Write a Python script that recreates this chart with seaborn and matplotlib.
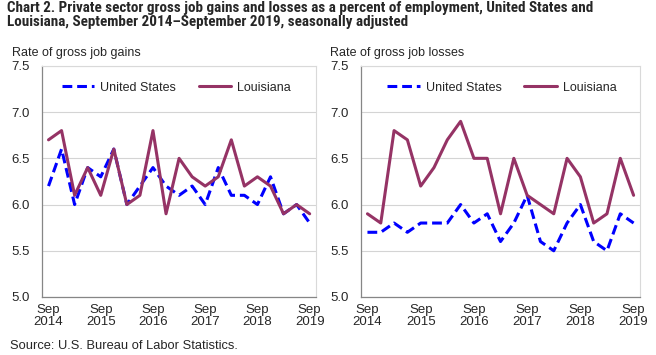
import numpy as np
import pandas as pd
import seaborn as sns
import matplotlib.pyplot as plt

quarters = np.arange(21)
year_labels = ['Sep\n2014', 'Sep\n2015', 'Sep\n2016', 'Sep\n2017', 'Sep\n2018', 'Sep\n2019']

gains_us = [6.2, 6.6, 6.0, 6.4, 6.3, 6.6, 6.0, 6.2, 6.4, 6.2, 6.1, 6.2, 6.0, 6.4, 6.1, 6.1, 6.0, 6.3, 5.9, 6.0, 5.8]
gains_la = [6.7, 6.8, 6.1, 6.4, 6.1, 6.6, 6.0, 6.1, 6.8, 5.9, 6.5, 6.3, 6.2, 6.3, 6.7, 6.2, 6.3, 6.2, 5.9, 6.0, 5.9]
losses_us = [5.7, 5.7, 5.8, 5.7, 5.8, 5.8, 5.8, 6.0, 5.8, 5.9, 5.6, 5.8, 6.1, 5.6, 5.5, 5.8, 6.0, 5.6, 5.5, 5.9, 5.8]
losses_la = [5.9, 5.8, 6.8, 6.7, 6.2, 6.4, 6.7, 6.9, 6.5, 6.5, 5.9, 6.5, 6.1, 6.0, 5.9, 6.5, 6.3, 5.8, 5.9, 6.5, 6.1]

sns.set_style('white')
plt.rcParams['font.family'] = ['Liberation Sans', 'DejaVu Sans']
condensed = ['Roboto Condensed', 'Liberation Sans', 'DejaVu Sans']

fig = plt.figure(figsize=(6.56, 3.55), dpi=100)
ax_l = fig.add_axes([0.064, 0.1634, 0.418, 0.651])
ax_r = fig.add_axes([0.550, 0.1634, 0.426, 0.651])

blue = '#0000ff'
maroon = '#953365'


def draw_panel(ax, us, la, ylabel, leg_x):
    sns.lineplot(x=quarters, y=us, ax=ax, color=blue, lw=2.2, label='United States')
    sns.lineplot(x=quarters, y=la, ax=ax, color=maroon, lw=2.2, label='Louisiana')
    ax.lines[0].set_dashes([3.2, 1.6])
    ax.set_xlim(-0.5, 20.5)
    ax.set_ylim(5.0, 7.5)
    ax.set_yticks([5.0, 5.5, 6.0, 6.5, 7.0, 7.5])
    ax.set_yticklabels(['5.0', '5.5', '6.0', '6.5', '7.0', '7.5'])
    ax.set_xticks(np.arange(0, 21, 4))
    ax.set_xticklabels(year_labels, linespacing=1.0)
    ax.set_xticks(np.arange(-0.5, 21, 1), minor=True)
    ax.tick_params(axis='x', which='major', length=0, pad=5, labelsize=9.5)
    ax.tick_params(axis='x', which='minor', length=4, width=0.8, color='#868686', direction='out')
    ax.tick_params(axis='y', length=0, pad=9, labelsize=9.5)
    ax.yaxis.grid(True, color='#d4d4d4', lw=0.8)
    ax.set_axisbelow(True)
    for side in ['left', 'bottom']:
        ax.spines[side].set_color('#868686')
        ax.spines[side].set_linewidth(0.9)
    for side in ['top', 'right']:
        ax.spines[side].set_color('#d9d9d9')
        ax.spines[side].set_linewidth(0.8)
    ax.set_xlabel('')
    ax.set_ylabel('')
    ax.text(-0.11, 1.03, ylabel, transform=ax.transAxes, fontsize=9, va='bottom', ha='left')
    ax.legend(loc='upper center', bbox_to_anchor=(leg_x, 0.98), ncol=2, frameon=False,
              fontsize=9, handlelength=2.6, columnspacing=1.8, handletextpad=0.5)


draw_panel(ax_l, gains_us, gains_la, 'Rate of gross job gains', 0.49)
draw_panel(ax_r, losses_us, losses_la, 'Rate of gross job losses', 0.505)

fig.text(0.011, 0.996, 'Chart 2. Private sector gross job gains and losses as a percent of employment, United States and\n'
         'Louisiana, September 2014\u2013September 2019, seasonally adjusted',
         fontsize=10.9, fontweight='bold', family=condensed, va='top', ha='left', linespacing=0.98)
fig.text(0.016, 0.025, 'Source: U.S. Bureau of Labor Statistics.', fontsize=9.3, va='center', ha='left')

fig.savefig('out.png', dpi=100)
